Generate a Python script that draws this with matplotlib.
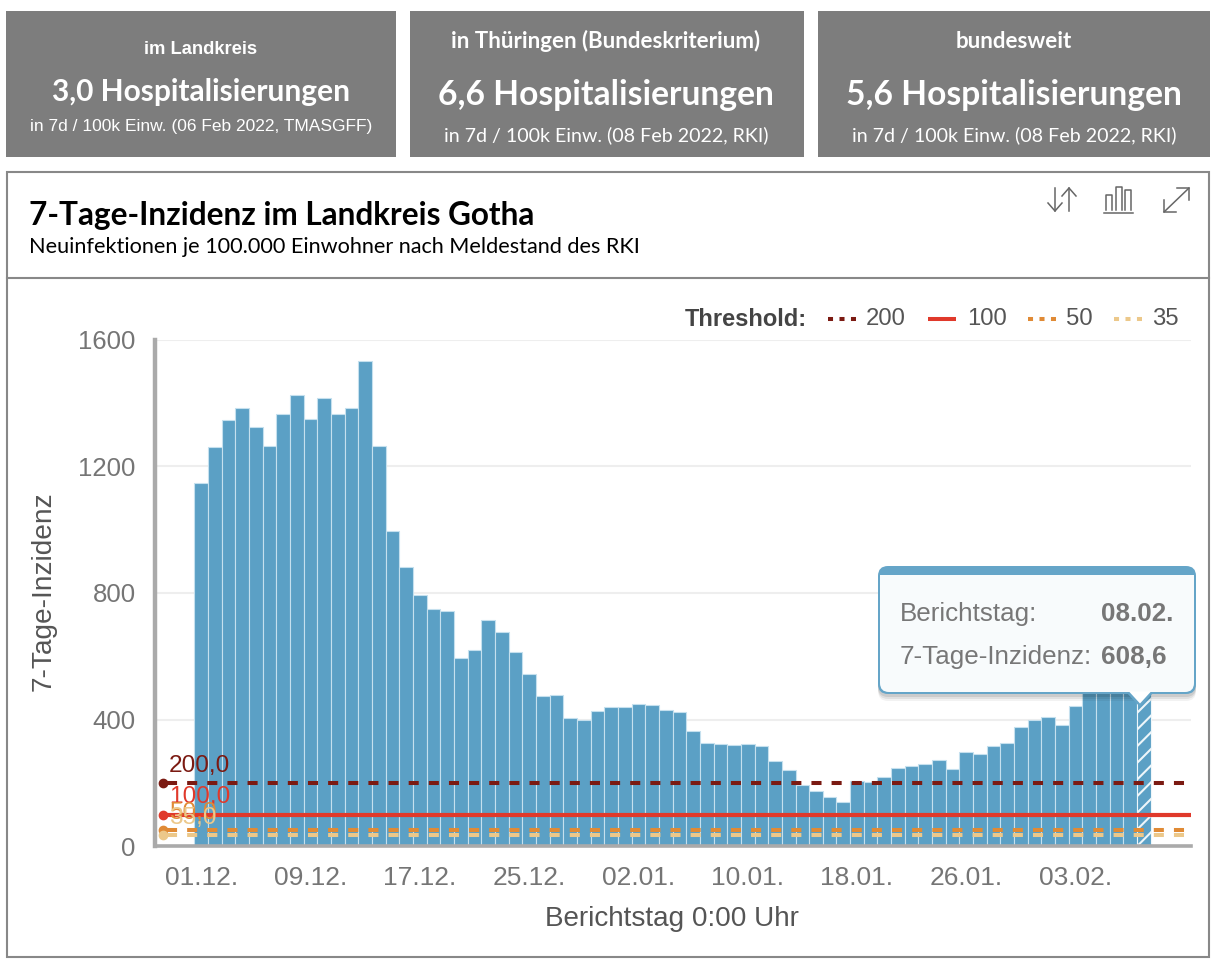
import numpy as np
import matplotlib
matplotlib.use("Agg")
import matplotlib.pyplot as plt
from matplotlib.patches import Rectangle, FancyBboxPatch, Polygon

W, H = 1214, 966

# 01.12. bis 08.02., ein Wert pro Tag
incidence = [1146, 1260, 1345, 1384, 1324, 1264, 1365, 1426, 1350, 1414,
             1364, 1385, 1533, 1264, 997, 882, 792, 750, 744, 596,
             620, 713, 677, 614, 543, 473, 478, 406, 400, 428,
             439, 440, 449, 446, 429, 424, 365, 326, 323, 320,
             323, 316, 269, 241, 194, 176, 156, 141, 205, 202,
             219, 247, 255, 260, 273, 244, 297, 291, 316, 327,
             378, 398, 407, 383, 444, 490, 552, 547, 574, 608.6]
xtick_labels = ["01.12.", "09.12.", "17.12.", "25.12.", "02.01.",
                "10.01.", "18.01.", "26.01.", "03.02."]
ytick_values = [0, 400, 800, 1200, 1600]

threshold_values = [200, 100, 50, 35]
threshold_labels = ["200,0", "100,0", "50,0", "35,0"]
threshold_colors = ["#7b1a12", "#e0392b", "#e08a35", "#ecc88a"]

card_heads = ["im Landkreis", "in Thüringen (Bundeskriterium)", "bundesweit"]
card_values = ["3,0 Hospitalisierungen", "6,6 Hospitalisierungen", "5,6 Hospitalisierungen"]
card_notes = ["in 7d / 100k Einw. (06 Feb 2022, TMASGFF)",
              "in 7d / 100k Einw. (08 Feb 2022, RKI)",
              "in 7d / 100k Einw. (08 Feb 2022, RKI)"]

SANS = "Liberation Sans"
BLUE = "#5ba0c5"

fig = plt.figure(figsize=(W / 100, H / 100), dpi=100, facecolor="white")

# Hintergrund-Ebene in Pixelkoordinaten
bg = fig.add_axes([0, 0, 1, 1], zorder=0)
bg.set_xlim(0, W)
bg.set_ylim(H, 0)
bg.axis("off")

cards = [(6, 396, 201), (410, 804, 606), (818, 1210, 1014)]
for i, (x0, x1, xc) in enumerate(cards):
    bg.add_patch(Rectangle((x0, 11), x1 - x0, 146, fc="#7d7d7d", ec="none"))
    if i == 0:
        bg.text(xc, 50, card_heads[i], color="white", family=SANS, weight="bold",
                fontsize=13.2, ha="center", va="center")
        bg.text(xc, 92, card_values[i], color="white", family="Lato", weight="bold",
                fontsize=21.5, ha="center", va="center")
        bg.text(xc, 127, card_notes[i], color="white", family=SANS,
                fontsize=12.5, ha="center", va="center")
    else:
        bg.text(xc, 41, card_heads[i], color="white", family="Lato", weight="bold",
                fontsize=16, ha="center", va="center")
        bg.text(xc, 95, card_values[i], color="white", family="Lato", weight="bold",
                fontsize=24.2, ha="center", va="center")
        bg.text(xc, 135, card_notes[i], color="white", family="Lato",
                fontsize=14.1, ha="center", va="center")

bg.add_patch(Rectangle((6.5, 171.5), 1202, 785, fc="white", ec="#888888", lw=1.5))
bg.plot([6.5, 1208.5], [278, 278], color="#888888", lw=1.5)
bg.text(29, 215, "7-Tage-Inzidenz im Landkreis Gotha", color="black", family="Lato",
        weight="bold", fontsize=22.7, ha="left", va="center")
bg.text(29, 247, "Neuinfektionen je 100.000 Einwohner nach Meldestand des RKI",
        color="black", family="Lato", fontsize=15.6, ha="left", va="center")

# Symbole oben rechts
ic = "#666666"
bg.plot([1055, 1055], [188, 211], color=ic, lw=1.1)
bg.plot([1048, 1055, 1062], [203, 211, 203], color=ic, lw=1.1)
bg.plot([1069, 1069], [211, 188], color=ic, lw=1.1)
bg.plot([1062, 1069, 1076], [196, 188, 196], color=ic, lw=1.1)
bg.plot([1104, 1133], [213, 213], color=ic, lw=1.1)
for bx, top in [(1106, 195), (1116, 187), (1125, 190)]:
    bg.plot([bx, bx, bx + 6, bx + 6], [210, top, top, 210], color=ic, lw=1.1)
bg.plot([1164, 1189], [212, 188], color=ic, lw=1.1)
bg.plot([1164, 1164, 1176], [200, 212, 212], color=ic, lw=1.1)
bg.plot([1177, 1189, 1189], [188, 188, 200], color=ic, lw=1.1)

# Diagramm
px_left, px_right, px_top, px_bottom = 155, 1191, 339.5, 846.3
ax = fig.add_axes([px_left / W, 1 - px_bottom / H,
                   (px_right - px_left) / W, (px_bottom - px_top) / H], zorder=1)
ax.patch.set_alpha(0)
bar_px = 13.66
x0_px = 201.3
ax.set_xlim((px_left - x0_px) / bar_px, (px_right - x0_px) / bar_px)
ax.set_ylim(0, 1600)

days = np.arange(len(incidence))
ax.bar(days[:-1], incidence[:-1], width=1, color=BLUE, edgecolor="#c5e0ee", linewidth=0.8, zorder=3)
plt.rcParams["hatch.linewidth"] = 1.5
ax.bar(days[-1:], incidence[-1:], width=1, color=BLUE, edgecolor="#eef6fa", linewidth=0.8,
       hatch="//", zorder=3)

ax.set_yticks(ytick_values)
ax.set_xticks(days[::8][:len(xtick_labels)])
ax.set_xticklabels(xtick_labels)
ax.tick_params(axis="both", length=0, labelcolor="#757575", labelfontfamily=SANS)
ax.tick_params(axis="y", pad=14, labelsize=18.5)
ax.tick_params(axis="x", pad=14.5, labelsize=19)
ax.grid(axis="y", color="#eeeeee", lw=1.5, zorder=1)
ax.set_axisbelow(True)
for s in ["top", "right"]:
    ax.spines[s].set_visible(False)
ax.spines["left"].set_color("#aaaaaa")
ax.spines["left"].set_linewidth(3.2)
ax.spines["bottom"].set_color("#aaaaaa")
ax.spines["bottom"].set_linewidth(2.6)
ax.spines["left"].set_zorder(5)
ax.spines["bottom"].set_zorder(5)

line_start = (167 - x0_px) / bar_px
marker_x = (162.5 - x0_px) / bar_px
line_end = ax.get_xlim()[1]
for val, lab, col in zip(threshold_values, threshold_labels, threshold_colors):
    if val == 100:
        ax.plot([marker_x, line_end], [val, val], color=col, lw=3, zorder=6, solid_capstyle="butt")
    else:
        ax.plot([line_start, line_end], [val, val], color=col, lw=2.9, zorder=6,
                linestyle=(0, (2.5, 2.5)), dash_capstyle="butt")
        ax.plot([marker_x, line_start], [val, val], color=col, lw=0.8, zorder=6)
    ax.plot([marker_x], [val], "o", color=col, ms=6, zorder=7, clip_on=False)
    ax.text(marker_x + 0.45, val + 20, lab, color=col, family=SANS, fontsize=17.6,
            ha="left", va="bottom", zorder=7)

# Vordergrund: Achsentitel, Legende, Tooltip
fg = fig.add_axes([0, 0, 1, 1], zorder=2)
fg.set_xlim(0, W)
fg.set_ylim(H, 0)
fg.axis("off")
fg.patch.set_alpha(0)

fg.text(672, 918.5, "Berichtstag 0:00 Uhr", color="#555555", family=SANS, fontsize=20.1,
        ha="center", va="center")
fg.text(44, 591, "7-Tage-Inzidenz", color="#555555", family=SANS, fontsize=20.2,
        rotation=90, ha="center", va="center")

fg.text(807, 320, "Threshold:", color="#444444", family=SANS, weight="bold", fontsize=17,
        ha="right", va="center")
legend_pos = [(828, 866), (928, 967), (1028, 1066), (1114, 1152)]
legend_names = ["200", "100", "50", "35"]
for (lx, tx), name, col in zip(legend_pos, legend_names, threshold_colors):
    if name == "100":
        fg.plot([lx, lx + 28], [319, 319], color=col, lw=2.9, solid_capstyle="butt")
    else:
        fg.plot([lx, lx + 28], [319, 319], color=col, lw=2.9,
                linestyle=(0, (1.25, 1.6)), dash_capstyle="butt")
    fg.text(tx, 319, name, color="#555555", family=SANS, fontsize=17.2, ha="left", va="center")

# Tooltip
tx0, tx1, ty0, ty1 = 878, 1196, 566, 694
for off, a in [(7, 0.05), (5, 0.07), (3, 0.09)]:
    fg.add_patch(FancyBboxPatch((tx0 + 10, ty0 + 10 + off), tx1 - tx0 - 20, ty1 - ty0 - 20,
                                boxstyle="round,pad=10,rounding_size=10", fc="black", ec="none", alpha=a))
fg.add_patch(FancyBboxPatch((tx0 + 10, ty0 + 10), tx1 - tx0 - 20, ty1 - ty0 - 20,
                            boxstyle="round,pad=10,rounding_size=10", fc="#65a5c8", ec="none"))
inner = FancyBboxPatch((tx0 + 2, ty0 - 10), tx1 - tx0 - 4, ty1 - ty0 + 8,
                       boxstyle="round,pad=0,rounding_size=9", fc="white", ec="none", alpha=0.96)
fg.add_patch(inner)
inner.set_clip_path(Rectangle((tx0, ty0 + 9), tx1 - tx0, ty1 - ty0, transform=fg.transData))
fg.add_patch(Polygon([(1126, ty1 - 2), (1140, 707), (1154, ty1 - 2)], fc="#65a5c8", ec="none"))
fg.add_patch(Polygon([(1129, ty1 - 2.5), (1140, 703.5), (1151, ty1 - 2.5)], fc="white", ec="none"))
fg.text(900, 614, "Berichtstag:", color="#777777", family=SANS, fontsize=18.7, ha="left", va="center")
fg.text(900, 657, "7-Tage-Inzidenz:", color="#777777", family=SANS, fontsize=18.7, ha="left", va="center")
fg.text(1101, 614, "08.02.", color="#777777", family=SANS, weight="bold", fontsize=18.7, ha="left", va="center")
fg.text(1101, 657, "608,6", color="#777777", family=SANS, weight="bold", fontsize=18.7, ha="left", va="center")

fig.savefig("out.png", dpi=100)
